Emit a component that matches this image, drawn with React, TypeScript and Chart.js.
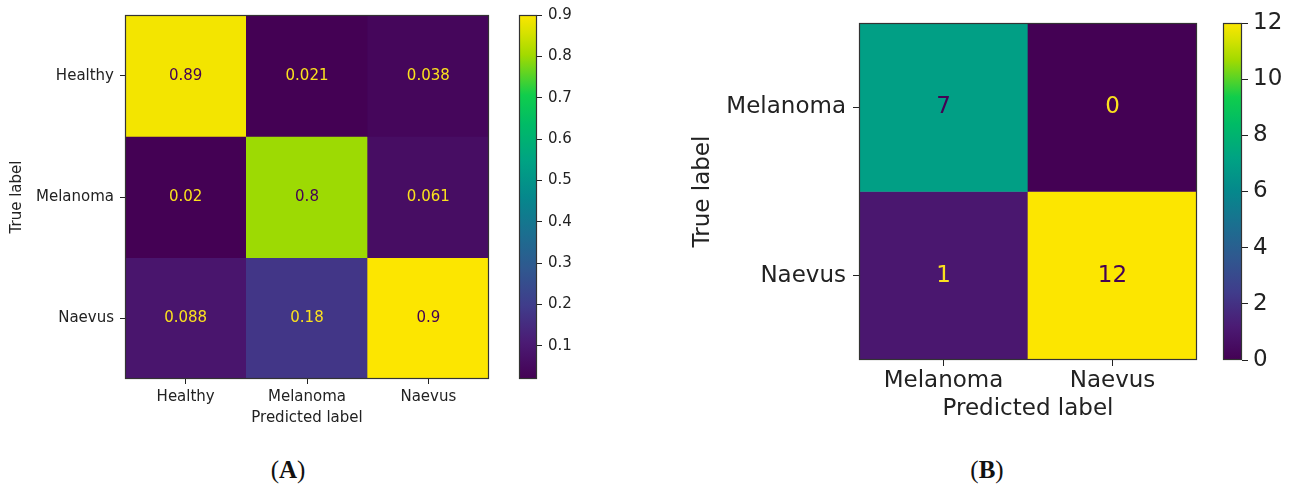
import React, { useEffect, useRef } from "react";
import { Chart, registerables } from "chart.js";

Chart.register(...registerables);
Chart.defaults.font.family = "'DejaVu Sans', sans-serif";
Chart.defaults.color = "#222";

// ---------- Data: panel A (normalised confusion matrix) ----------
const classesA = ["Healthy", "Melanoma", "Naevus"];
const rowHealthyA = [0.89, 0.021, 0.038];
const rowMelanomaA = [0.02, 0.8, 0.061];
const rowNaevusA = [0.088, 0.18, 0.9];
const rangeA = [0.02, 0.9];
const colorbarTicksA = [0.1, 0.2, 0.3, 0.4, 0.5, 0.6, 0.7, 0.8, 0.9];

// ---------- Data: panel B (count confusion matrix) ----------
const classesB = ["Melanoma", "Naevus"];
const rowMelanomaB = [7, 0];
const rowNaevusB = [1, 12];
const rangeB = [0, 12];
const colorbarTicksB = [0, 2, 4, 6, 8, 10, 12];

const panelLabels = ["A", "B"];

// ---------- Colormap (viridis-like, as rendered in the figure) ----------
const CMAP: [number, string][] = [
  [0.0, "#440154"],
  [0.1, "#4b1b74"],
  [0.2, "#403c8b"],
  [0.3, "#30578f"],
  [0.4, "#1b6f90"],
  [0.5, "#05888c"],
  [0.6, "#00a383"],
  [0.7, "#00bb66"],
  [0.78, "#10cd4c"],
  [0.89, "#a2da00"],
  [0.95, "#d6e200"],
  [1.0, "#fce600"],
];

function hexToRgb(h: string) {
  const n = parseInt(h.slice(1), 16);
  return [(n >> 16) & 255, (n >> 8) & 255, n & 255];
}

function cmap(t: number) {
  const v = Math.max(0, Math.min(1, t));
  for (let i = 0; i < CMAP.length - 1; i++) {
    const [t0, c0] = CMAP[i];
    const [t1, c1] = CMAP[i + 1];
    if (v >= t0 && v <= t1) {
      const f = (v - t0) / (t1 - t0);
      const a = hexToRgb(c0);
      const b = hexToRgb(c1);
      const r = a.map((x, k) => Math.round(x + (b[k] - x) * f));
      return `rgb(${r[0]},${r[1]},${r[2]})`;
    }
  }
  return CMAP[CMAP.length - 1][1];
}

const TEXT_DARK = "#440154";
const TEXT_LIGHT = "#fbe11e";

const framePlugin = {
  id: "frame",
  afterDatasetsDraw(chart: any) {
    const { ctx, chartArea } = chart;
    ctx.save();
    ctx.strokeStyle = "#333";
    ctx.lineWidth = 1.2;
    ctx.strokeRect(
      chartArea.left + 0.5,
      chartArea.top + 0.5,
      chartArea.right - chartArea.left - 1,
      chartArea.bottom - chartArea.top - 1
    );
    ctx.restore();
  },
};

function heatmapConfig(p: {
  rows: number[][];
  classes: string[];
  range: number[];
  fontSize: number;
  padding: any;
  yWidth: number;
  xHeight: number;
  tickLen: number;
  yTickPad: number;
  xTickPad: number;
  yTitlePad: number;
  xTitlePad: number;
}) {
  const [vmin, vmax] = p.range;
  const thresh = (vmin + vmax) / 2;
  const valuePlugin = {
    id: "values",
    afterDatasetsDraw(chart: any) {
      const ctx = chart.ctx;
      ctx.save();
      ctx.font = `${p.fontSize}px 'DejaVu Sans', sans-serif`;
      ctx.textAlign = "center";
      ctx.textBaseline = "middle";
      p.rows.forEach((row, i) => {
        const meta = chart.getDatasetMeta(i);
        meta.data.forEach((el: any, j: number) => {
          const c = el.getCenterPoint();
          const v = row[j];
          ctx.fillStyle = v > thresh ? TEXT_DARK : TEXT_LIGHT;
          ctx.fillText(String(v), c.x, c.y);
        });
      });
      ctx.restore();
    },
  };
  return {
    type: "bar",
    data: {
      labels: p.classes,
      datasets: p.rows.map((row, i) => ({
        label: p.classes[i],
        data: row.map(() => 1),
        backgroundColor: row.map((v) => cmap((v - vmin) / (vmax - vmin))),
        borderWidth: 0,
        barPercentage: 1,
        categoryPercentage: 1,
        stack: "cm",
      })),
    },
    options: {
      animation: false,
      responsive: false,
      events: [],
      layout: { padding: p.padding },
      plugins: { legend: { display: false }, tooltip: { enabled: false } },
      scales: {
        x: {
          type: "category",
          stacked: true,
          grid: {
            offset: false,
            drawOnChartArea: false,
            tickLength: p.tickLen,
            color: "#222",
            lineWidth: 1,
          },
          border: { display: false },
          ticks: {
            font: { size: p.fontSize },
            padding: p.xTickPad,
            maxRotation: 0,
            color: "#222",
          },
          title: {
            display: true,
            text: "Predicted label",
            font: { size: p.fontSize },
            color: "#222",
            padding: { top: 0, bottom: p.xTitlePad },
          },
          afterFit: (s: any) => {
            s.height = p.xHeight;
          },
        },
        y: {
          type: "linear",
          stacked: true,
          reverse: true,
          min: 0,
          max: p.classes.length,
          grid: {
            drawOnChartArea: false,
            tickLength: p.tickLen,
            color: "#222",
            lineWidth: 1,
          },
          border: { display: false },
          afterBuildTicks: (s: any) => {
            s.ticks = p.classes.map((_, i) => ({ value: i + 0.5 }));
          },
          ticks: {
            font: { size: p.fontSize },
            padding: p.yTickPad,
            color: "#222",
            callback: (v: any) => p.classes[Math.floor(Number(v))],
          },
          title: {
            display: true,
            text: "True label",
            font: { size: p.fontSize },
            color: "#222",
            padding: { top: p.yTitlePad, bottom: 0 },
          },
          afterFit: (s: any) => {
            s.width = p.yWidth;
          },
        },
      },
    },
    plugins: [framePlugin, valuePlugin],
  };
}

function colorbarConfig(p: {
  range: number[];
  ticks: number[];
  fontSize: number;
  padding: any;
  yWidth: number;
  tickLen: number;
  tickPad: number;
}) {
  const [vmin, vmax] = p.range;
  return {
    type: "bar",
    data: {
      labels: [""],
      datasets: [
        {
          data: [[vmin, vmax]],
          borderWidth: 0,
          barPercentage: 1,
          categoryPercentage: 1,
          backgroundColor: (ctx: any) => {
            const chart = ctx.chart;
            if (!chart.chartArea) return "#888";
            const y = chart.scales.y;
            const g = chart.ctx.createLinearGradient(
              0,
              y.getPixelForValue(vmin),
              0,
              y.getPixelForValue(vmax)
            );
            CMAP.forEach(([t, c]) => g.addColorStop(t, c));
            return g;
          },
        },
      ],
    },
    options: {
      animation: false,
      responsive: false,
      events: [],
      layout: { padding: p.padding },
      plugins: { legend: { display: false }, tooltip: { enabled: false } },
      scales: {
        x: { display: false },
        y: {
          position: "right",
          min: vmin,
          max: vmax,
          grid: {
            drawOnChartArea: false,
            tickLength: p.tickLen,
            color: "#222",
            lineWidth: 1,
          },
          border: { display: false },
          afterBuildTicks: (s: any) => {
            s.ticks = p.ticks.map((v) => ({ value: v }));
          },
          ticks: {
            font: { size: p.fontSize },
            padding: p.tickPad,
            color: "#222",
            callback: (v: any) => String(v),
          },
          afterFit: (s: any) => {
            s.width = p.yWidth;
          },
        },
      },
    },
    plugins: [framePlugin],
  };
}

function ChartCanvas(props: {
  left: number;
  top: number;
  width: number;
  height: number;
  make: () => any;
}) {
  const ref = useRef<HTMLCanvasElement | null>(null);
  useEffect(() => {
    const chart = new Chart(ref.current as HTMLCanvasElement, props.make());
    return () => chart.destroy();
  }, []);
  return (
    <canvas
      ref={ref}
      width={props.width}
      height={props.height}
      style={{
        position: "absolute",
        left: props.left,
        top: props.top,
        width: props.width,
        height: props.height,
      }}
    />
  );
}

function PanelLabel({ text, cx }: { text: string; cx: number }) {
  return (
    <div
      style={{
        position: "absolute",
        left: cx - 60,
        width: 120,
        top: 455,
        lineHeight: "30px",
        height: 30,
        textAlign: "center",
        fontFamily: "'Liberation Serif', 'Times New Roman', serif",
        fontSize: 25,
        color: "#111",
      }}
    >
      (<b>{text}</b>)
    </div>
  );
}

export default function App() {
  return (
    <div
      style={{
        position: "absolute",
        left: 0,
        top: 0,
        width: 1293,
        height: 485,
        background: "#fff",
        overflow: "hidden",
      }}
    >
      <ChartCanvas
        left={0}
        top={0}
        width={500}
        height={440}
        make={() =>
          heatmapConfig({
            rows: [rowHealthyA, rowMelanomaA, rowNaevusA],
            classes: classesA,
            range: rangeA,
            fontSize: 15,
            padding: { top: 15, right: 11, left: 0, bottom: 0 },
            yWidth: 125,
            xHeight: 61,
            tickLen: 5,
            yTickPad: 6,
            xTickPad: 4,
            yTitlePad: 8,
            xTitlePad: 13,
          })
        }
      />
      <ChartCanvas
        left={500}
        top={0}
        width={80}
        height={440}
        make={() =>
          colorbarConfig({
            range: rangeA,
            ticks: colorbarTicksA,
            fontSize: 15,
            padding: { top: 15, bottom: 61, left: 19, right: 0 },
            yWidth: 43,
            tickLen: 5,
            tickPad: 6,
          })
        }
      />
      <ChartCanvas
        left={680}
        top={0}
        width={530}
        height={440}
        make={() =>
          heatmapConfig({
            rows: [rowMelanomaB, rowNaevusB],
            classes: classesB,
            range: rangeB,
            fontSize: 23,
            padding: { top: 23, right: 13, left: 0, bottom: 0 },
            yWidth: 179,
            xHeight: 80,
            tickLen: 6,
            yTickPad: 7,
            xTickPad: 1,
            yTitlePad: 9,
            xTitlePad: 17,
          })
        }
      />
      <ChartCanvas
        left={1210}
        top={0}
        width={83}
        height={440}
        make={() =>
          colorbarConfig({
            range: rangeB,
            ticks: colorbarTicksB,
            fontSize: 23,
            padding: { top: 23, bottom: 80, left: 13, right: 0 },
            yWidth: 51,
            tickLen: 6,
            tickPad: 5,
          })
        }
      />
      <PanelLabel text={panelLabels[0]} cx={288} />
      <PanelLabel text={panelLabels[1]} cx={987} />
    </div>
  );
}
